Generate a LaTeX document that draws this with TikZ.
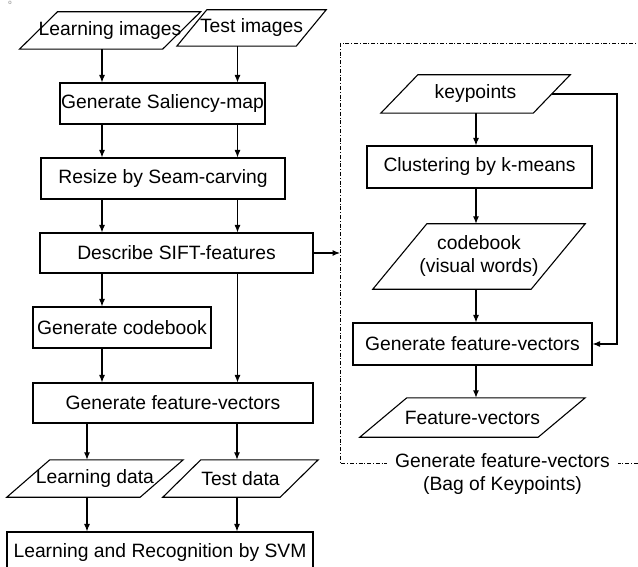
\documentclass[tikz,border=0pt]{standalone}
\usepackage{fontspec}
\setmainfont{Liberation Sans}
\usetikzlibrary{arrows.meta}
% outline of a data (input/output) parallelogram around node #1, half slant #2
\newcommand\ioframe[2]{%
  \draw[plain] ([xshift=-#2]#1.south west) -- ([xshift=#2]#1.north west)
    -- ([xshift=#2]#1.north east) -- ([xshift=-#2]#1.south east) -- cycle;}
\begin{document}
\begin{tikzpicture}[x=1pt,y=-1pt,
  every node/.style={font=\fontsize{19.3}{23}\selectfont, align=center},
  procbox/.style={draw, rectangle, line width=1.1pt, inner sep=0pt},
  iobox/.style={rectangle, inner sep=0pt},
  arr/.style={line width=1.1pt, -{Latex[length=7.5pt,width=6pt]}},
  plain/.style={line width=1.1pt, line join=miter},
  dashbox/.style={line width=0.8pt, dash pattern=on 4pt off 1.8pt on 1pt off 1.8pt}
]
\clip (0,0) rectangle (638,567);

% column positions of the vertical connectors
\coordinate (xa) at (102,0);
\coordinate (xb) at (237.5,0);
\coordinate (xc) at (87,0);
\coordinate (xd) at (237,0);
\coordinate (xe) at (476,0);
\coordinate (rx) at (617,0);
\coordinate (bxl) at (340,0);

\node[font=\fontsize{6}{6}\selectfont, text=gray, inner sep=0pt] (mark) at (10,2.5) {o};

% left pipeline
\node[iobox, minimum width=132pt, minimum height=37pt] (li) at (110,30.5) {Learning images};
\node[iobox, minimum width=119pt, minimum height=36pt] (ti) at (251.5,28) {Test images};
\node[procbox, minimum width=205pt, minimum height=41pt] (sal) at (162.5,103.5) {Generate Saliency-map};
\node[procbox, minimum width=244pt, minimum height=41pt] (rsz) at (163,178.5) {Resize by Seam-carving};
\node[procbox, minimum width=273pt, minimum height=40pt] (desc) at (176.5,253) {Describe SIFT-features};
\node[procbox, minimum width=178pt, minimum height=41pt] (gcb) at (122,327.5) {Generate codebook};
\node[procbox, minimum width=280pt, minimum height=40pt] (gfl) at (173,403) {Generate feature-vectors};
\node[iobox, minimum width=133pt, minimum height=37pt] (ld) at (95,478.5) {Learning data};
\node[iobox, minimum width=117pt, minimum height=37pt] (td) at (240.5,478.5) {Test data};
\node[procbox, minimum width=306pt, minimum height=42pt] (svm) at (160,553) {Learning and Recognition by SVM};

\ioframe{li}{19pt}
\ioframe{ti}{15pt}
\ioframe{ld}{21.5pt}
\ioframe{td}{19pt}

\draw[arr] (li.south -| xa) -- (sal.north -| xa);
\draw[arr] (ti.south -| xb) -- (sal.north -| xb);
\draw[arr] (sal.south -| xa) -- (rsz.north -| xa);
\draw[arr] (sal.south -| xb) -- (rsz.north -| xb);
\draw[arr] (rsz.south -| xa) -- (desc.north -| xa);
\draw[arr] (rsz.south -| xb) -- (desc.north -| xb);
\draw[arr] (desc.south -| xa) -- (gcb.north -| xa);
\draw[arr] (desc.south -| xb) -- (gfl.north -| xb);
\draw[arr] (gcb.south -| xa) -- (gfl.north -| xa);
\draw[arr] (gfl.south -| xc) -- (ld.north -| xc);
\draw[arr] (gfl.south -| xd) -- (td.north -| xd);
\draw[arr] (ld.south -| xc) -- (svm.north -| xc);
\draw[arr] (td.south -| xd) -- (svm.north -| xd);

% bag-of-keypoints sub-process
\draw[dashbox] (340,43) rectangle (660,463);
\node[fill=white, inner xsep=8pt, inner ysep=2pt] (bagk) at (502.5,474.5)
  {Generate feature-vectors\\(Bag of Keypoints)};

\node[iobox, minimum width=152pt, minimum height=38pt] (kp) at (475.5,94) {keypoints};
\node[procbox, minimum width=225pt, minimum height=42pt] (clu) at (479.5,167) {Clustering by k-means};
\node[iobox, minimum width=158pt, minimum height=65pt] (cb) at (479,256.5) {codebook\\(visual words)};
\node[procbox, minimum width=239pt, minimum height=42pt] (gfr) at (472.5,344) {Generate feature-vectors};
\node[iobox, minimum width=178pt, minimum height=39pt] (fv) at (472.5,417.5) {Feature-vectors};

\ioframe{kp}{18.5pt}
\ioframe{cb}{27pt}
\ioframe{fv}{23.5pt}

\draw[arr] (kp.south -| xe) -- (clu.north -| xe);
\draw[arr] (clu.south -| xe) -- (cb.north -| xe);
\draw[arr] (cb.south -| xe) -- (gfr.north -| xe);
\draw[arr] (gfr.south -| xe) -- (fv.north -| xe);
\draw[arr] (kp.east) -- (kp.east -| rx) |- (gfr.east);

\draw[arr] (desc.east) -- (desc.east -| bxl);
\end{tikzpicture}
\end{document}
